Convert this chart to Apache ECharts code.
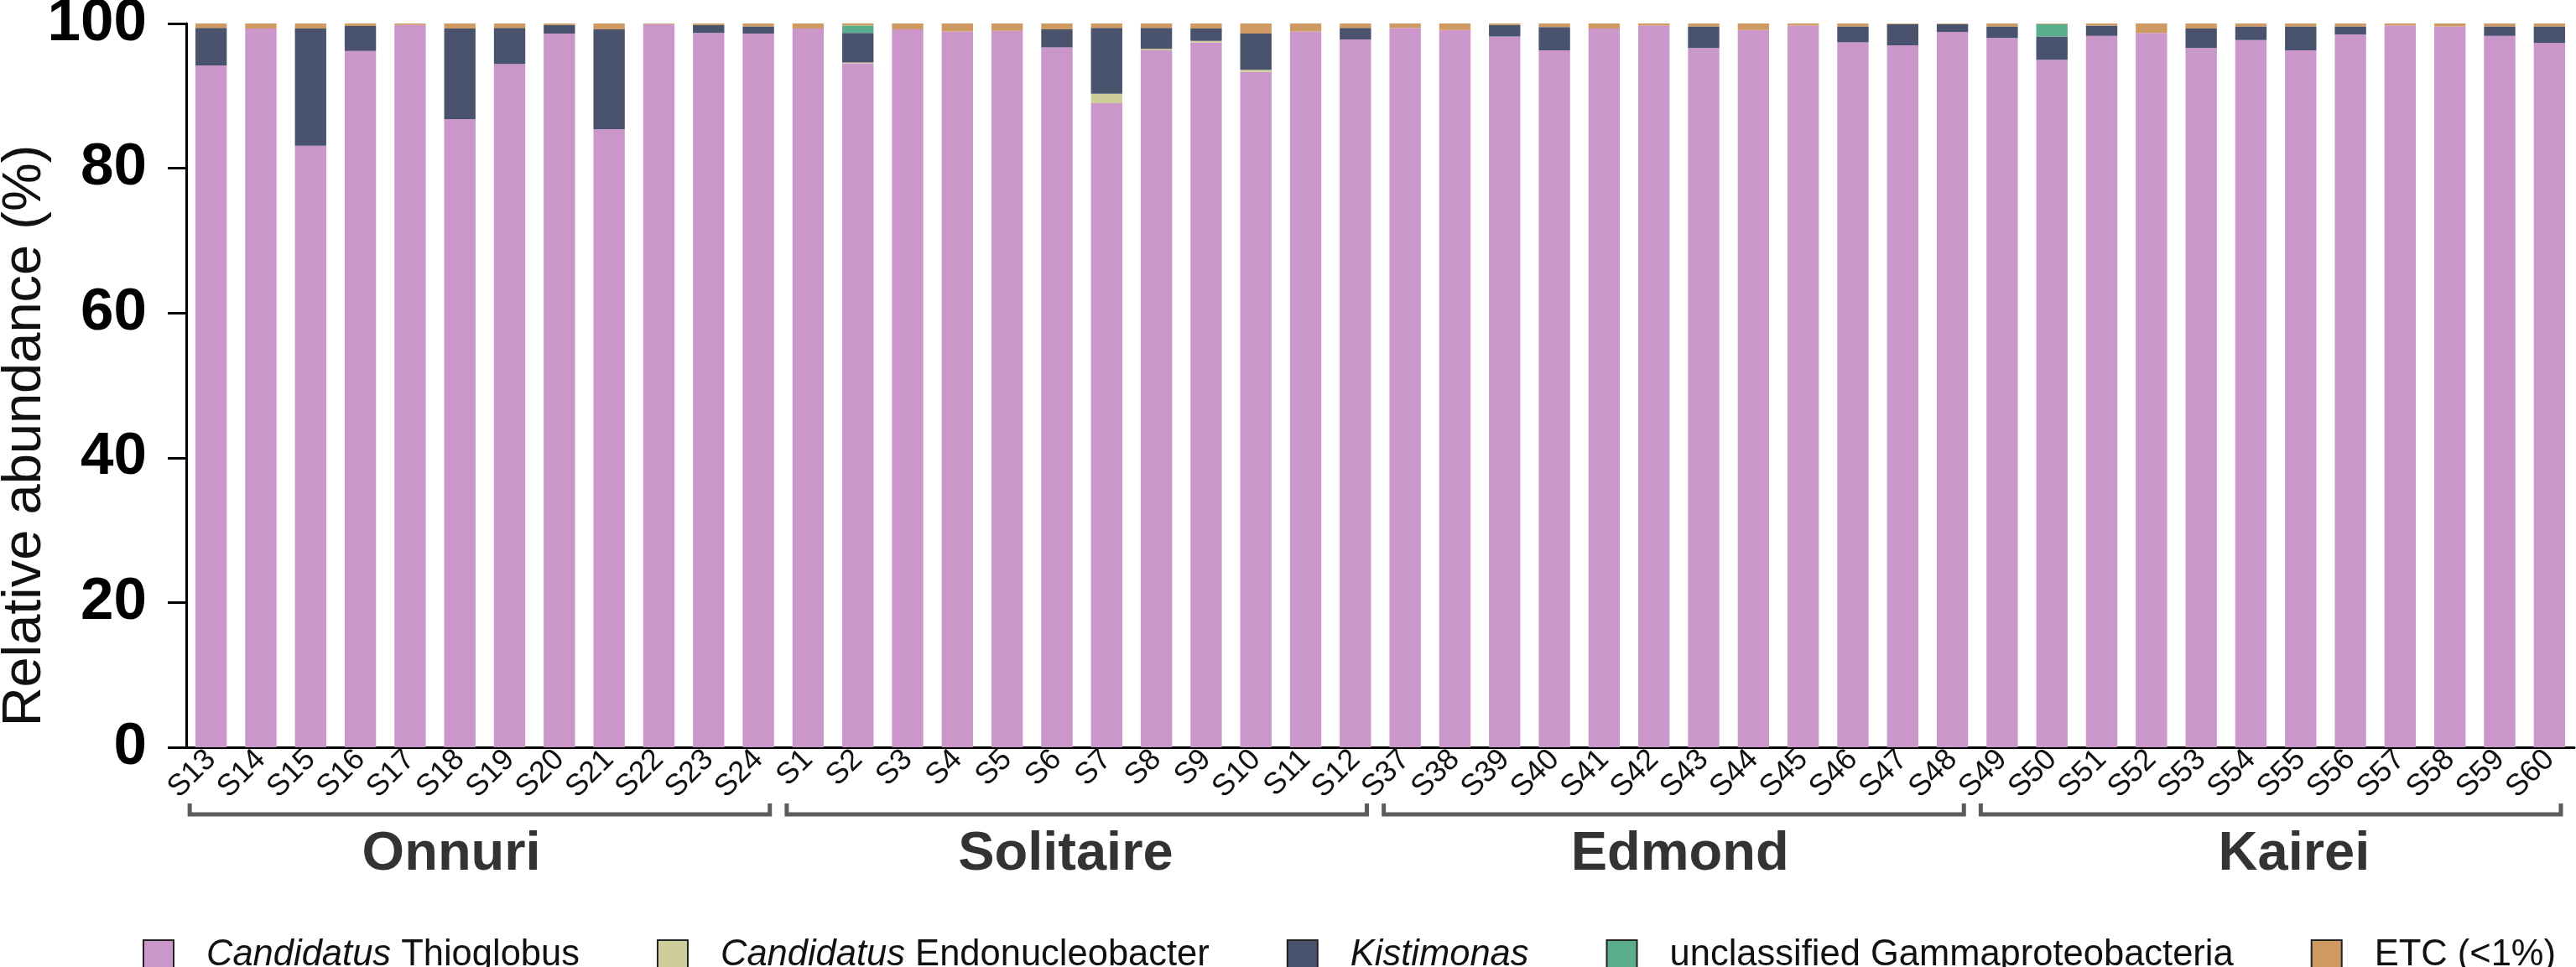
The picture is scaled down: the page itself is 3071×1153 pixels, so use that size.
<!DOCTYPE html>
<html>

<head>
    <meta charset="utf-8" />
    <title>Relative abundance</title>
    <script src="https://cdn.jsdelivr.net/npm/echarts@6/dist/echarts.min.js"></script>
    <style>
        html, body { margin: 0; padding: 0; background: #fff; }
        #main { width: 3071px; height: 1153px; }
    </style>
</head>

<body>
    <div id="main"></div>
    <script type="text/javascript">
        // samples in plotting order
        var samples = ['S13', 'S14', 'S15', 'S16', 'S17', 'S18', 'S19', 'S20', 'S21', 'S22', 'S23', 'S24',
            'S1', 'S2', 'S3', 'S4', 'S5', 'S6', 'S7', 'S8', 'S9', 'S10', 'S11', 'S12',
            'S37', 'S38', 'S39', 'S40', 'S41', 'S42', 'S43', 'S44', 'S45', 'S46', 'S47', 'S48',
            'S49', 'S50', 'S51', 'S52', 'S53', 'S54', 'S55', 'S56', 'S57', 'S58', 'S59', 'S60'];
        var groups = ['Onnuri', 'Solitaire', 'Edmond', 'Kairei'];
        var groupSize = 12;

        var thioglobus = [94.2, 99.3, 83.1, 96.2, 99.8, 86.8, 94.4, 98.6, 85.4, 99.9, 98.7, 98.6,
            99.3, 94.5, 99.2, 98.9, 99.0, 96.7, 89.0, 96.3, 97.4, 93.3, 98.9, 97.8,
            99.4, 99.1, 98.2, 96.3, 99.3, 99.7, 96.6, 99.1, 99.7, 97.4, 97.0, 98.8,
            98.0, 95.0, 98.3, 98.7, 96.6, 97.7, 96.3, 98.5, 99.7, 99.6, 98.3, 97.3];
        var endonucleobacter = [0, 0, 0, 0, 0, 0, 0, 0, 0, 0, 0, 0,
            0, 0.1, 0, 0, 0, 0, 1.3, 0.2, 0.2, 0.3, 0, 0,
            0, 0, 0, 0, 0, 0, 0, 0, 0, 0, 0, 0,
            0, 0, 0, 0, 0, 0, 0, 0, 0, 0, 0, 0];
        var kistimonas = [5.2, 0, 16.2, 3.45, 0, 12.5, 5.0, 1.2, 13.8, 0, 1.1, 1.0,
            0, 4.1, 0, 0, 0, 2.5, 9.1, 2.9, 1.7, 5.0, 0, 1.6,
            0, 0, 1.6, 3.2, 0, 0, 3.0, 0, 0, 2.2, 2.9, 1.1,
            1.6, 3.2, 1.4, 0, 2.7, 1.9, 3.3, 1.1, 0, 0, 1.3, 2.3];
        var gamma = [0, 0, 0, 0, 0, 0, 0, 0, 0, 0, 0, 0,
            0, 1.0, 0, 0, 0, 0, 0, 0, 0, 0, 0, 0,
            0, 0, 0, 0, 0, 0, 0, 0, 0, 0, 0, 0,
            0, 1.7, 0, 0, 0, 0, 0, 0, 0, 0, 0, 0];
        var etc = [0.6, 0.7, 0.7, 0.35, 0.2, 0.7, 0.6, 0.2, 0.8, 0.1, 0.2, 0.4,
            0.7, 0.3, 0.8, 1.1, 1.0, 0.8, 0.6, 0.6, 0.7, 1.4, 1.1, 0.6,
            0.6, 0.9, 0.2, 0.5, 0.7, 0.3, 0.4, 0.9, 0.3, 0.4, 0.1, 0.1,
            0.4, 0.1, 0.3, 1.3, 0.7, 0.4, 0.4, 0.4, 0.3, 0.4, 0.4, 0.4];

        var taxa = [
            { name: 'Candidatus Thioglobus', label: '{i|Candidatus} Thioglobus', data: thioglobus, color: '#CB97CB' },
            { name: 'Candidatus Endonucleobacter', label: '{i|Candidatus} Endonucleobacter', data: endonucleobacter, color: '#CFCD9A' },
            { name: 'Kistimonas', label: '{i|Kistimonas}', data: kistimonas, color: '#4A536D' },
            { name: 'unclassified Gammaproteobacteria', label: 'unclassified Gammaproteobacteria', data: gamma, color: '#5AAD8D' },
            { name: 'ETC (<1%)', label: 'ETC (<1%)', data: etc, color: '#CF9962' }
        ];

        var sans = 'Liberation Sans, Arial, sans-serif';
        var narrow = 'Noto Sans Condensed, Liberation Sans Narrow, Arial Narrow, Liberation Sans, sans-serif';

        var myChart = echarts.init(document.getElementById('main'));

        var option = {
            animation: false,
            grid: [
                { left: 222, right: 2, top: 28, bottom: 262, containLabel: false, outerBoundsMode: 'none' },
                // site names sit on a slightly wider spacing than the sample bands
                { left: 172, right: -30, top: 28, bottom: 262, containLabel: false, outerBoundsMode: 'none' }
            ],
            legend: {
                left: 165,
                top: 1112,
                icon: 'rect',
                itemWidth: 36,
                itemHeight: 36,
                itemGap: 92,
                itemStyle: { borderColor: '#222', borderWidth: 2 },
                data: taxa.map(function (t) { return t.name; }),
                formatter: function (name) {
                    for (var i = 0; i < taxa.length; i++) {
                        if (taxa[i].name === name) return taxa[i].label;
                    }
                    return name;
                },
                textStyle: {
                    fontFamily: sans,
                    fontSize: 43.5,
                    color: '#111',
                    padding: [0, 0, 0, 34],
                    rich: {
                        i: { fontFamily: sans, fontSize: 43.5, fontStyle: 'italic', color: '#111' }
                    }
                }
            },
            xAxis: [
                {
                    type: 'category',
                    gridIndex: 0,
                    data: samples,
                    axisLine: { lineStyle: { color: '#000', width: 3 } },
                    axisTick: { show: false },
                    axisLabel: {
                        interval: 0,
                        rotate: 45,
                        margin: 9,
                        fontFamily: sans,
                        fontSize: 36,
                        color: '#111'
                    }
                },
                {
                    type: 'category',
                    gridIndex: 1,
                    position: 'bottom',
                    offset: 96,
                    data: groups,
                    axisLine: { show: false },
                    axisTick: { show: false },
                    axisLabel: {
                        interval: 0,
                        margin: 0,
                        fontFamily: sans,
                        fontWeight: 'bold',
                        fontSize: 65,
                        color: '#333'
                    }
                }
            ],
            yAxis: [
                {
                    type: 'value',
                    gridIndex: 0,
                    min: 0,
                    max: 100,
                    interval: 20,
                    name: 'Relative abundance (%)',
                    nameLocation: 'middle',
                    nameGap: 159,
                    nameMoveOverlap: false,
                    nameTextStyle: { fontFamily: sans, fontSize: 65, color: '#111', padding: [0, 120, 0, 0] },
                    axisLine: { show: true, lineStyle: { color: '#000', width: 3 } },
                    axisTick: { show: true, length: 22, lineStyle: { color: '#000', width: 3 } },
                    splitLine: { show: false },
                    axisLabel: {
                        margin: 47,
                        fontFamily: narrow,
                        fontWeight: 'bold',
                        fontSize: 71,
                        color: '#000',
                        padding: [8, 0, 0, 0]
                    }
                },
                { type: 'value', gridIndex: 1, show: false }
            ],
            series: taxa.map(function (t) {
                return {
                    name: t.name,
                    type: 'bar',
                    stack: 'total',
                    barCategoryGap: '37%',
                    data: t.data,
                    itemStyle: { color: t.color }
                };
            })
        };

        myChart.setOption(option);

        // group brackets under the sample labels, placed from the category axis
        var band = myChart.convertToPixel({ xAxisIndex: 0 }, samples[1]) - myChart.convertToPixel({ xAxisIndex: 0 }, samples[0]);
        var yBase = myChart.convertToPixel({ yAxisIndex: 0 }, 0);
        var brackets = groups.map(function (g, i) {
            var first = myChart.convertToPixel({ xAxisIndex: 0 }, samples[i * groupSize]);
            var last = myChart.convertToPixel({ xAxisIndex: 0 }, samples[i * groupSize + groupSize - 1]);
            var x1 = first - band * 0.43;
            var x2 = last + band * 0.23;
            return {
                type: 'polyline',
                shape: { points: [[x1, yBase + 67], [x1, yBase + 80], [x2, yBase + 80], [x2, yBase + 67]] },
                style: { stroke: '#5c5c5c', lineWidth: 5, fill: null }
            };
        });
        myChart.setOption({ graphic: brackets });
    </script>
</body>

</html>
